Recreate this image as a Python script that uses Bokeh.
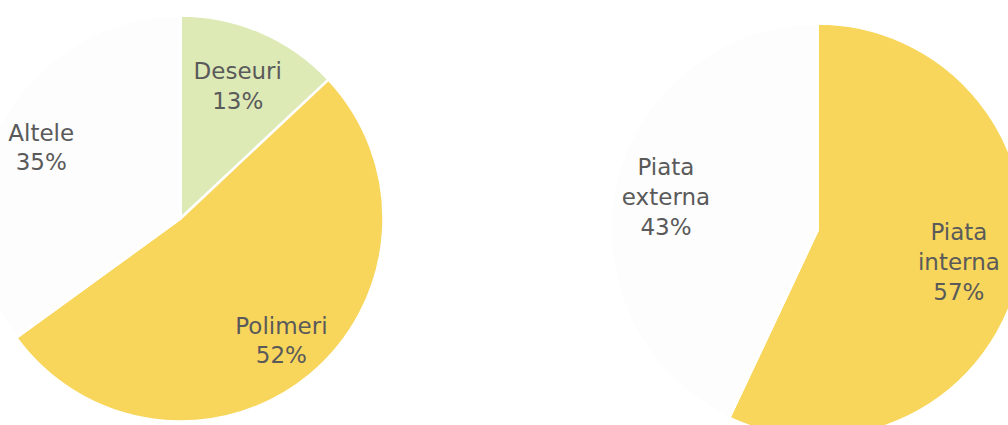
import math
from bokeh.plotting import figure
from bokeh.models import Range1d, ColumnDataSource
from bokeh.core.properties import value
from bokeh.embed import file_html
from bokeh.resources import INLINE

# --- data ---
left_labels = ["Deseuri", "Polimeri", "Altele"]
left_values = [13, 52, 35]
left_colors = ["#DEEAB6", "#F8D65C", "#FDFDFD"]
left_label_r = [0.71, 0.78, 0.77]

right_labels = ["Piata\ninterna", "Piata\nexterna"]
right_values = [57, 43]
right_colors = ["#F8D65C", "#FDFDFD"]
right_label_r = [0.70, 0.75]

# --- layout (screen pixel coordinates, y downward -> negated) ---
W, H = 1008, 425
p = figure(width=W, height=H, output_backend="svg", toolbar_location=None,
           x_range=Range1d(0, W), y_range=Range1d(-H, 0),
           min_border=0)
p.axis.visible = False
p.grid.visible = False
p.outline_line_color = None
p.background_fill_color = "white"
p.border_fill_color = "white"


def draw_pie(cx, cy, r, labels, values, colors, lab_r):
    total = float(sum(values))
    starts, ends, tx, ty, texts = [], [], [], [], []
    cum = 0.0
    for lab, v, fr in zip(labels, values, lab_r):
        a0 = math.pi / 2 - 2 * math.pi * cum / total
        cum += v
        a1 = math.pi / 2 - 2 * math.pi * cum / total
        starts.append(a1)
        ends.append(a0)
        mid = (a0 + a1) / 2
        tx.append(cx + fr * r * math.cos(mid))
        ty.append(cy + fr * r * math.sin(mid))
        texts.append(f"{lab}\n{v}%")
    src = ColumnDataSource(dict(start=starts, end=ends, color=colors))
    p.wedge(x=cx, y=cy, radius=r, start_angle="start", end_angle="end",
            fill_color="color", line_color="white", line_width=2.5, source=src)
    tsrc = ColumnDataSource(dict(x=tx, y=ty, t=texts))
    p.text(x="x", y="y", text="t", source=tsrc, text_align="center",
           text_baseline="middle", text_font=value("DejaVu Sans"),
           text_font_size="23px", text_color="#5a5a5a", text_line_height=1.15)


draw_pie(180, -218, 203, left_labels, left_values, left_colors, left_label_r)
draw_pie(817, -230, 207, right_labels, right_values, right_colors, right_label_r)

open("out.html", "w").write(file_html(p, INLINE))
